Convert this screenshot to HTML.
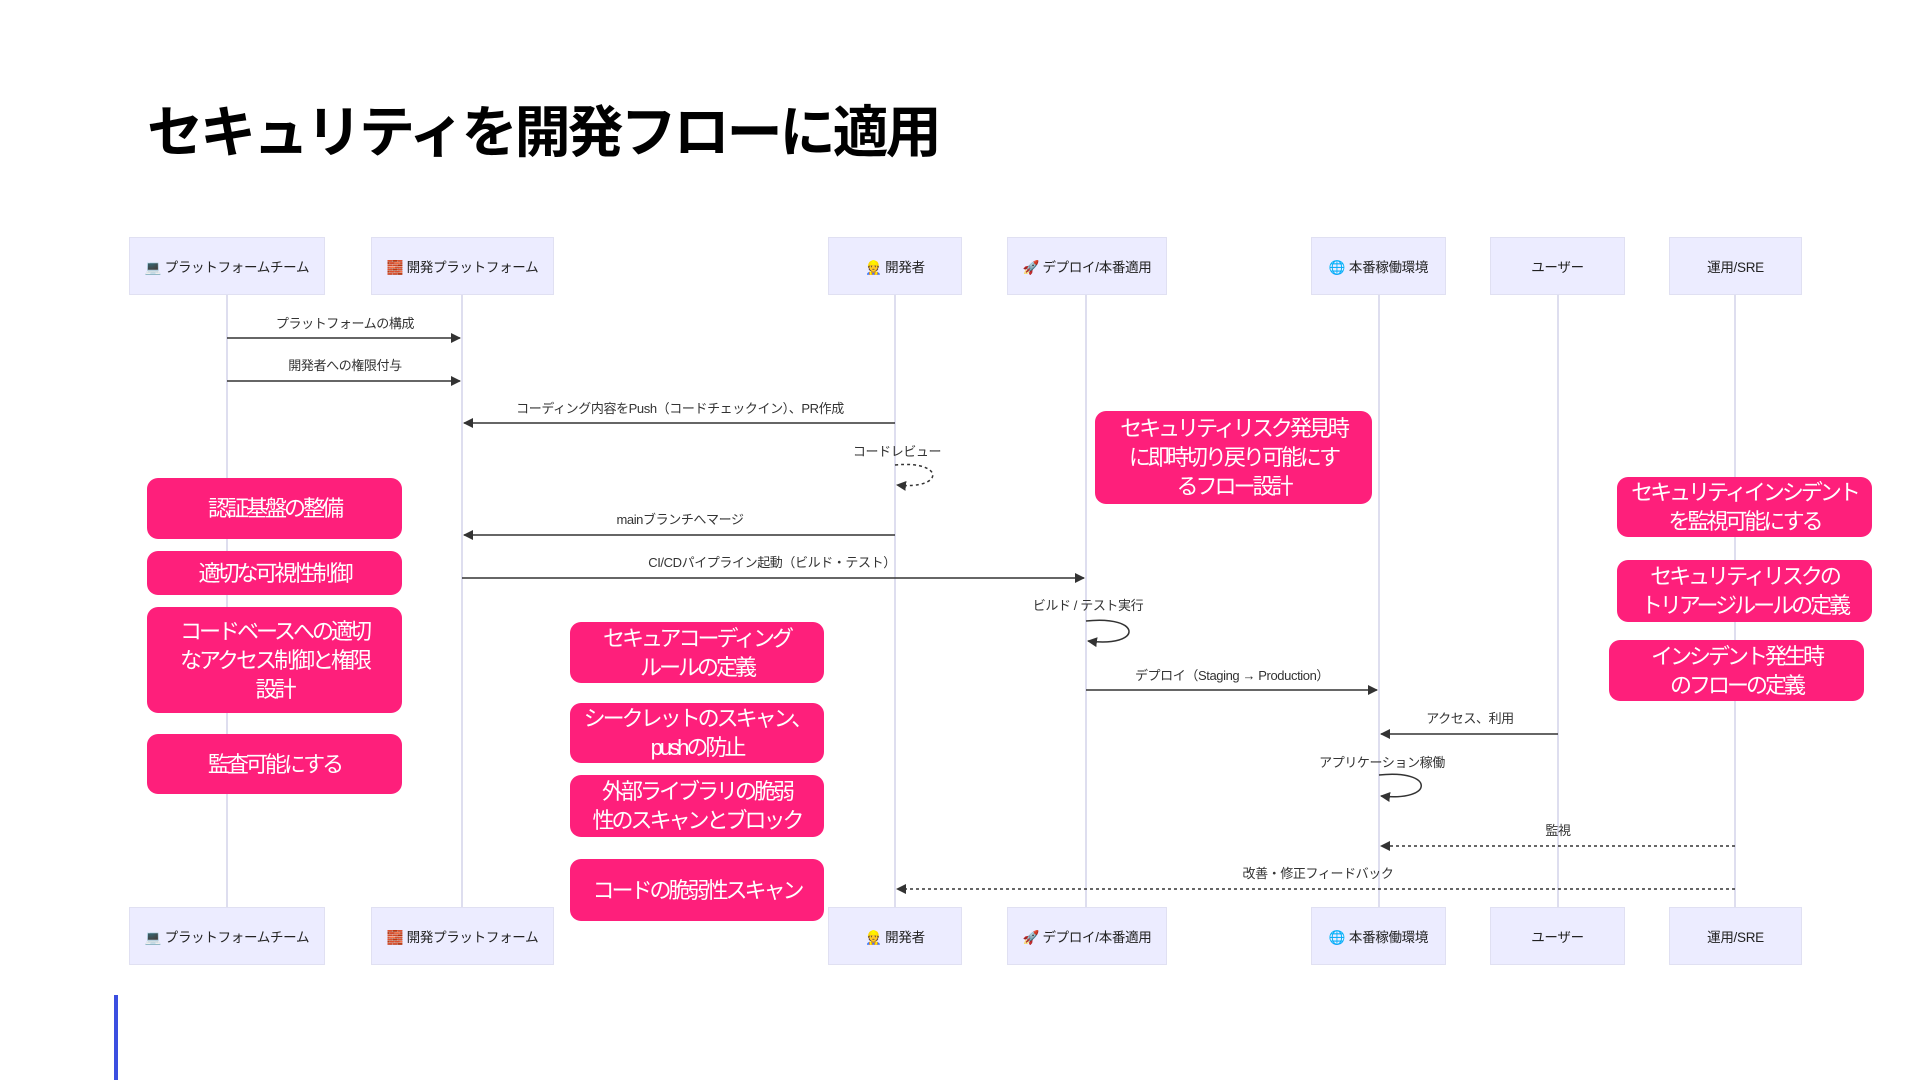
<!DOCTYPE html>
<html><head><meta charset="utf-8"><style>
html,body{margin:0;padding:0}
body{width:1920px;height:1080px;position:relative;background:#fff;overflow:hidden;font-family:"Liberation Sans","Noto Sans CJK JP",sans-serif}
.t{position:absolute;left:147px;top:88px;font-size:56px;font-weight:bold;color:#000;letter-spacing:-3px;white-space:nowrap}
.a{position:absolute;background:#ececff;border:1px solid #e0e0f2;box-sizing:border-box;display:flex;align-items:center;justify-content:center;font-size:13.5px;letter-spacing:-0.3px;color:#222;white-space:nowrap}
.n{position:absolute;background:#fe1f7b;color:#fff;border-radius:11px;display:flex;align-items:center;justify-content:center;text-align:center;font-size:22px;letter-spacing:-3px;line-height:29px;box-sizing:border-box;white-space:nowrap}
.l{position:absolute;font-size:13px;letter-spacing:-0.4px;color:#333;white-space:nowrap;transform:translateX(-50%)}
</style></head><body>
<div class="t">セキュリティを開発フローに適用</div>
<svg width="1920" height="1080" style="position:absolute;left:0;top:0">
<defs><marker id="ar" markerWidth="10" markerHeight="10" refX="9" refY="5" orient="auto" markerUnits="userSpaceOnUse"><path d="M0,0L10,5L0,10z" fill="#333"/></marker></defs>
<g stroke="#d4d4ea" stroke-width="1.5">
<line x1="227" y1="295" x2="227" y2="907"/><line x1="462" y1="295" x2="462" y2="907"/><line x1="895" y1="295" x2="895" y2="907"/><line x1="1086" y1="295" x2="1086" y2="907"/><line x1="1379" y1="295" x2="1379" y2="907"/><line x1="1558" y1="295" x2="1558" y2="907"/><line x1="1735" y1="295" x2="1735" y2="907"/>
</g>
<g stroke="#333" stroke-width="1.5" fill="none">
<line x1="227" y1="338" x2="460" y2="338" marker-end="url(#ar)"/>
<line x1="227" y1="381" x2="460" y2="381" marker-end="url(#ar)"/>
<line x1="895" y1="423" x2="464" y2="423" marker-end="url(#ar)"/>
<path d="M895,465 C945,460 945,490 897,485" stroke-dasharray="3,3" marker-end="url(#ar)"/>
<line x1="895" y1="535" x2="464" y2="535" marker-end="url(#ar)"/>
<line x1="462" y1="578" x2="1084" y2="578" marker-end="url(#ar)"/>
<path d="M1086,621 C1143,615 1143,648 1088,641" marker-end="url(#ar)"/>
<line x1="1086" y1="690" x2="1377" y2="690" marker-end="url(#ar)"/>
<line x1="1558" y1="734" x2="1381" y2="734" marker-end="url(#ar)"/>
<path d="M1379,775 C1435,769 1435,802 1381,796" marker-end="url(#ar)"/>
<line x1="1735" y1="846" x2="1381" y2="846" stroke-dasharray="3,3" marker-end="url(#ar)"/>
<line x1="1735" y1="889" x2="897" y2="889" stroke-dasharray="3,3" marker-end="url(#ar)"/>
</g>
<rect x="114" y="995" width="4" height="85" fill="#3b4fe0"/>
</svg>
<div class="a" style="left:129px;top:237px;width:196px;height:58px">💻 プラットフォームチーム</div>
<div class="a" style="left:371px;top:237px;width:183px;height:58px">🧱 開発プラットフォーム</div>
<div class="a" style="left:828px;top:237px;width:134px;height:58px">👷 開発者</div>
<div class="a" style="left:1007px;top:237px;width:160px;height:58px">🚀 デプロイ/本番適用</div>
<div class="a" style="left:1311px;top:237px;width:135px;height:58px">🌐 本番稼働環境</div>
<div class="a" style="left:1490px;top:237px;width:135px;height:58px">ユーザー</div>
<div class="a" style="left:1669px;top:237px;width:133px;height:58px">運用/SRE</div>
<div class="a" style="left:129px;top:907px;width:196px;height:58px">💻 プラットフォームチーム</div>
<div class="a" style="left:371px;top:907px;width:183px;height:58px">🧱 開発プラットフォーム</div>
<div class="a" style="left:828px;top:907px;width:134px;height:58px">👷 開発者</div>
<div class="a" style="left:1007px;top:907px;width:160px;height:58px">🚀 デプロイ/本番適用</div>
<div class="a" style="left:1311px;top:907px;width:135px;height:58px">🌐 本番稼働環境</div>
<div class="a" style="left:1490px;top:907px;width:135px;height:58px">ユーザー</div>
<div class="a" style="left:1669px;top:907px;width:133px;height:58px">運用/SRE</div>
<div class="l" style="left:345px;top:313px">プラットフォームの構成</div>
<div class="l" style="left:345px;top:355px">開発者への権限付与</div>
<div class="l" style="left:680px;top:398px">コーディング内容をPush（コードチェックイン）、PR作成</div>
<div class="l" style="left:897px;top:441px">コードレビュー</div>
<div class="l" style="left:680px;top:509px">mainブランチへマージ</div>
<div class="l" style="left:772px;top:552px">CI/CDパイプライン起動（ビルド・テスト）</div>
<div class="l" style="left:1088px;top:595px">ビルド / テスト実行</div>
<div class="l" style="left:1232px;top:665px">デプロイ（Staging → Production）</div>
<div class="l" style="left:1470px;top:708px">アクセス、利用</div>
<div class="l" style="left:1382px;top:752px">アプリケーション稼働</div>
<div class="l" style="left:1558px;top:820px">監視</div>
<div class="l" style="left:1318px;top:863px">改善・修正フィードバック</div>
<div class="n" style="left:147px;top:478px;width:255px;height:61px">認証基盤の整備</div>
<div class="n" style="left:147px;top:551px;width:255px;height:44px">適切な可視性制御</div>
<div class="n" style="left:147px;top:607px;width:255px;height:106px">コードベースへの適切<br>なアクセス制御と権限<br>設計</div>
<div class="n" style="left:147px;top:734px;width:255px;height:60px">監査可能にする</div>
<div class="n" style="left:570px;top:622px;width:254px;height:61px">セキュアコーディング<br>ルールの定義</div>
<div class="n" style="left:570px;top:703px;width:254px;height:60px">シークレットのスキャン、<br>pushの防止</div>
<div class="n" style="left:570px;top:775px;width:254px;height:62px">外部ライブラリの脆弱<br>性のスキャンとブロック</div>
<div class="n" style="left:570px;top:859px;width:254px;height:62px">コードの脆弱性スキャン</div>
<div class="n" style="left:1095px;top:411px;width:277px;height:93px">セキュリティリスク発見時<br>に即時切り戻り可能にす<br>るフロー設計</div>
<div class="n" style="left:1617px;top:477px;width:255px;height:60px">セキュリティインシデント<br>を監視可能にする</div>
<div class="n" style="left:1617px;top:560px;width:255px;height:62px">セキュリティリスクの<br>トリアージルールの定義</div>
<div class="n" style="left:1609px;top:640px;width:255px;height:61px">インシデント発生時<br>のフローの定義</div>
</body></html>
